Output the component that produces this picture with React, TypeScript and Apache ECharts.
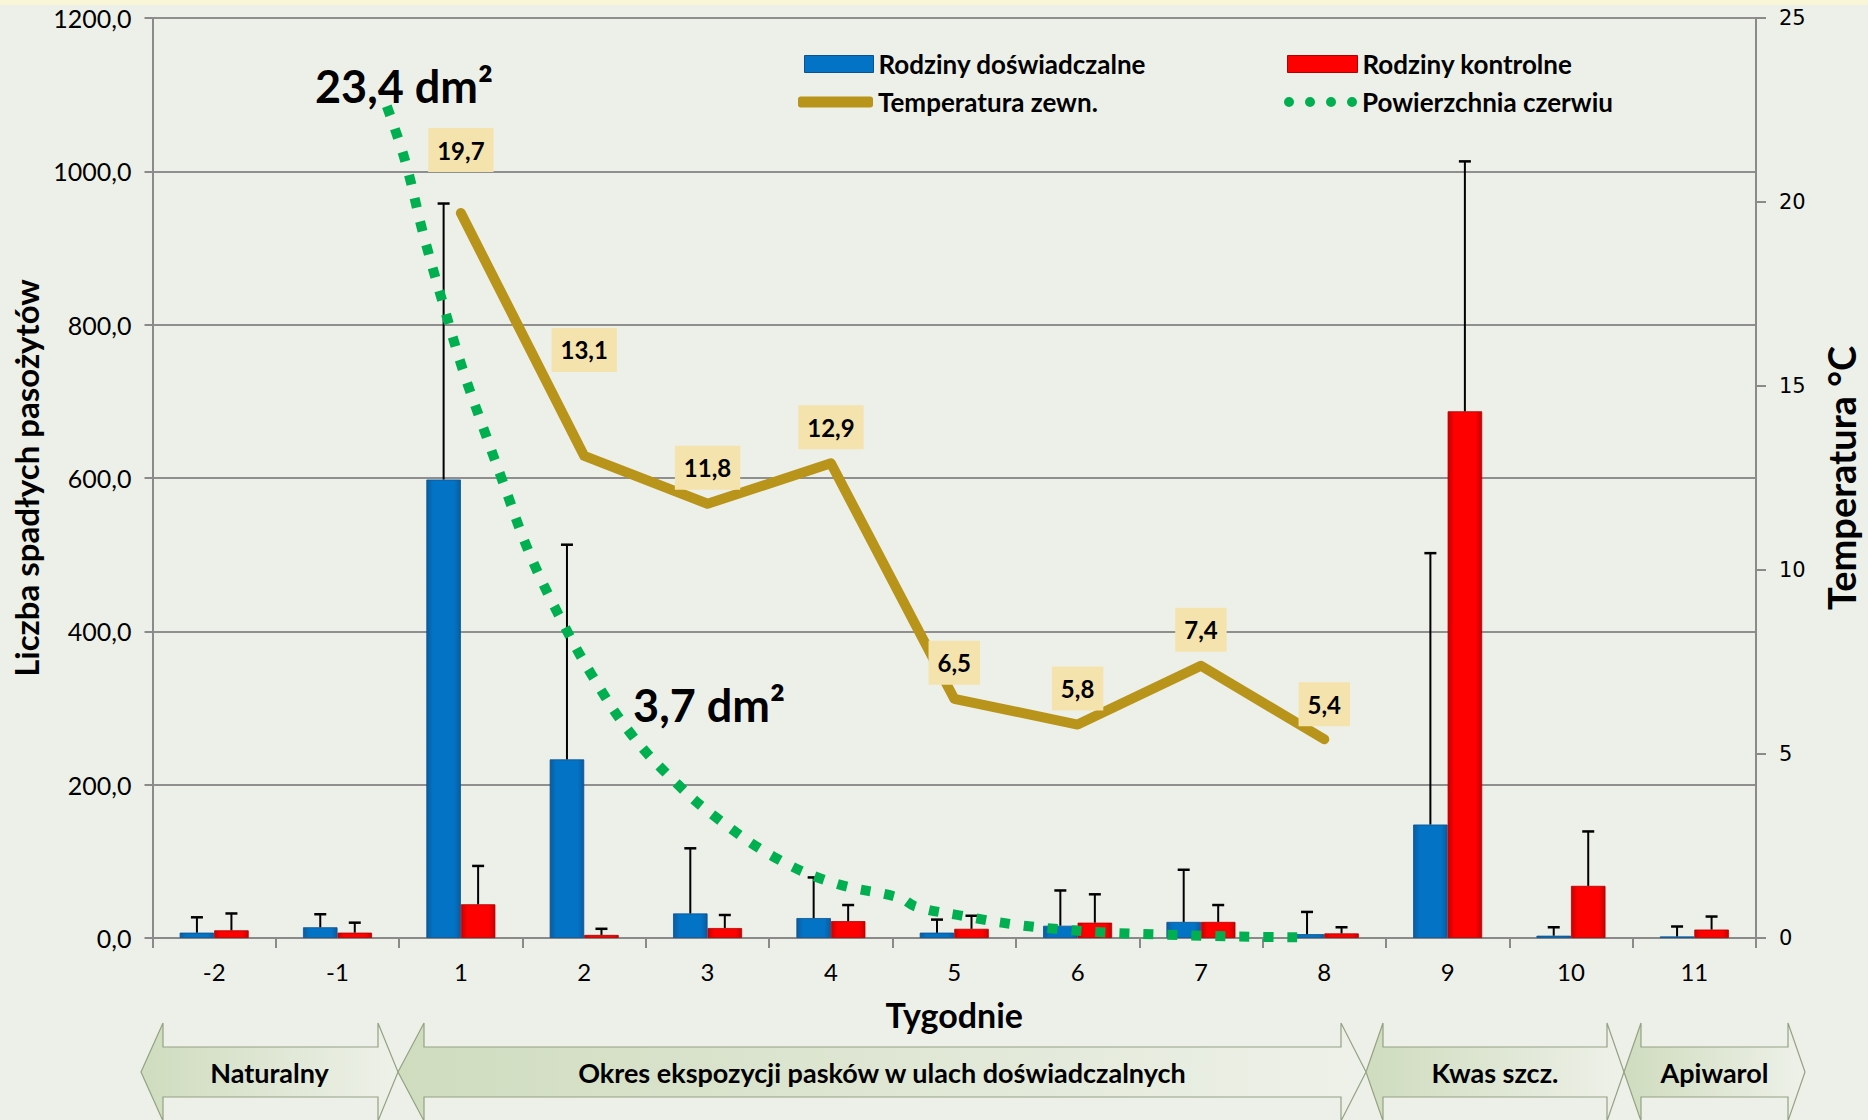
import React, { useEffect, useRef } from "react";
import * as echarts from "echarts";

// ---- data ----
const weeks = ["-2", "-1", "1", "2", "3", "4", "5", "6", "7", "8", "9", "10", "11"];
const experimental = [7, 14, 598, 233, 32, 26, 7, 16, 21, 5, 148, 3, 2];
const experimentalSD = [20, 17, 360, 280, 85, 53, 17, 46, 68, 29, 354, 11, 13];
const control = [10, 7, 44, 4, 13, 22, 12, 20, 21, 6, 687, 68, 11];
const controlSD = [22, 13, 50, 8, 17, 21, 17, 37, 22, 8, 326, 71, 17];
const temperature: (number | null)[] = [null, null, 19.7, 13.1, 11.8, 12.9, 6.5, 5.8, 7.4, 5.4, null, null, null];
// brood area curve: position along the week axis (category index units) and value (right-axis units)
const broodPos = [1.40, 1.55, 1.69, 1.85, 2.02, 2.21, 2.34, 2.55, 2.79, 3.07, 3.39, 3.75, 4.06, 4.54, 5.02, 5.56, 5.69, 6.07, 6.46, 6.85, 7.23, 7.62, 8.01, 8.41, 8.78];
const broodArea = [22.6, 21.1, 19.2, 17.3, 15.4, 13.6, 12.4, 10.5, 8.8, 7.1, 5.5, 4.2, 3.3, 2.2, 1.5, 1.09, 0.85, 0.6, 0.38, 0.24, 0.15, 0.1, 0.06, 0.035, 0.02];
const broodNotes = ["23,4 dm²", "3,7 dm²"];
const leftAxis = { min: 0, max: 1200, interval: 200 };
const rightAxis = { min: 0, max: 25, interval: 5 };
const periods = ["Naturalny", "Okres ekspozycji pasków w ulach doświadczalnych", "Kwas szcz.", "Apiwarol"];
const seriesNames = ["Rodziny doświadczalne", "Rodziny kontrolne", "Temperatura zewn.", "Powierzchnia czerwiu"];

// ---- styles ----
const FONT = "Lato";
const BG = "#EDF0E8";
const BAR_W = 34.5;
const tempLabelDist = [0, 0, 40, 83, 13, 13, 13, 13, 13, 12, 0, 0, 0];

function errorSeries(values: number[], sds: number[], side: number) {
  return {
    type: "custom",
    xAxisIndex: 0,
    yAxisIndex: 0,
    z: 3,
    silent: true,
    data: weeks.map((_, i) => [i, values[i], values[i] + sds[i]]),
    renderItem: (params: any, api: any) => {
      const base = api.coord([api.value(0), api.value(1)]);
      const top = api.coord([api.value(0), api.value(2)]);
      const x = base[0] + (side * BAR_W) / 2;
      return {
        type: "group",
        children: [
          { type: "line", shape: { x1: x, y1: base[1], x2: x, y2: top[1] }, style: { stroke: "#000", lineWidth: 2 } },
          { type: "line", shape: { x1: x - 6, y1: top[1], x2: x + 6, y2: top[1] }, style: { stroke: "#000", lineWidth: 2.5 } },
        ],
      };
    },
  };
}

function arrowPoints(xl: number, xlb: number, xrb: number, xr: number) {
  const cy = 1072, hh = 49, bh = 25;
  return [
    [xl, cy], [xlb, cy - hh], [xlb, cy - bh], [xrb, cy - bh], [xrb, cy - hh],
    [xr, cy], [xrb, cy + hh], [xrb, cy + bh], [xlb, cy + bh], [xlb, cy + hh],
  ];
}

export default function App() {
  const ref = useRef<HTMLDivElement>(null);
  useEffect(() => {
    if (!ref.current) return;
    const chart = echarts.init(ref.current, null, { renderer: "svg" });

    const blueFill = new echarts.graphic.LinearGradient(0, 0, 1, 0, [
      { offset: 0, color: "#0A5C9E" },
      { offset: 0.18, color: "#0373C6" },
      { offset: 0.82, color: "#0373C6" },
      { offset: 1, color: "#0A5C9E" },
    ]);
    const redFill = new echarts.graphic.LinearGradient(0, 0, 1, 0, [
      { offset: 0, color: "#C80000" },
      { offset: 0.18, color: "#FF0000" },
      { offset: 0.82, color: "#FF0000" },
      { offset: 1, color: "#C80000" },
    ]);

    const bannerEdges = [
      [141, 163, 378, 398],
      [398, 424, 1341, 1366],
      [1366, 1383, 1607, 1624],
      [1624, 1641, 1788, 1805],
    ];
    const bannerGraphics: any[] = [];
    bannerEdges.forEach((e, i) => {
      bannerGraphics.push({
        type: "polygon",
        shape: { points: arrowPoints(e[0], e[1], e[2], e[3]) },
        style: {
          fill: new echarts.graphic.LinearGradient(0, 0, 1, 0, [
            { offset: 0, color: "#CFDCBE" },
            { offset: 1, color: "#EEF1E9" },
          ]),
          stroke: "#94A283",
          lineWidth: 1.2,
        },
        z: 1,
      });
      bannerGraphics.push({
        type: "text",
        x: (e[0] + e[3]) / 2,
        y: 1072,
        style: {
          text: periods[i],
          font: `bold 27px ${FONT}`,
          fill: "#000",
          textAlign: "center",
          textVerticalAlign: "middle",
        },
        z: 2,
      });
    });

    const textStyle = { fontFamily: FONT, fontWeight: "bold", fontSize: 26, color: "#000", lineHeight: 28 };
    const dotsIcon =
      "path://M0,5a5,5 0 1,0 10,0a5,5 0 1,0 -10,0Z M21,5a5,5 0 1,0 10,0a5,5 0 1,0 -10,0Z M42,5a5,5 0 1,0 10,0a5,5 0 1,0 -10,0Z M63,5a5,5 0 1,0 10,0a5,5 0 1,0 -10,0Z";
    const legendBase = { padding: 0, selectedMode: false, textStyle };

    const option: any = {
      animation: false,
      backgroundColor: BG,
      textStyle: { fontFamily: FONT },
      grid: { left: 152.5, right: 108, top: 18, bottom: 182, containLabel: false },
      legend: [
        { ...legendBase, data: [{ name: seriesNames[0], icon: "rect", itemStyle: { color: "#0373C6", borderColor: "#0A5290", borderWidth: 1 } }], left: 804, top: 50, itemWidth: 69, itemHeight: 17 },
        { ...legendBase, data: [{ name: seriesNames[2], icon: "roundRect", itemStyle: { color: "#B8941A" } }], left: 798, top: 88, itemWidth: 75, itemHeight: 11 },
        { ...legendBase, data: [{ name: seriesNames[1], icon: "rect", itemStyle: { color: "#FF0000", borderColor: "#B00000", borderWidth: 1 } }], left: 1287, top: 50, itemWidth: 70, itemHeight: 17 },
        { ...legendBase, data: [{ name: seriesNames[3], icon: dotsIcon, itemStyle: { color: "#00B050" } }], left: 1284, top: 88, itemWidth: 73, itemHeight: 10 },
      ],
      xAxis: [
        {
          type: "category",
          data: weeks,
          name: "Tygodnie",
          nameLocation: "middle",
          nameGap: 59,
          nameTextStyle: { fontFamily: FONT, fontWeight: "bold", fontSize: 34, color: "#000" },
          axisLine: { onZero: false, lineStyle: { color: "#8A8A8A", width: 2 } },
          axisTick: { show: true, length: 10, lineStyle: { color: "#8A8A8A", width: 2 } },
          axisLabel: { fontFamily: FONT, fontSize: 24, color: "#000", margin: 21 },
          splitLine: { show: false },
        },
        { type: "value", min: -0.5, max: 12.5, show: false, axisLine: { onZero: false } },
      ],
      yAxis: [
        {
          type: "value",
          min: leftAxis.min,
          max: leftAxis.max,
          interval: leftAxis.interval,
          name: "Liczba spadłych pasożytów",
          nameLocation: "middle",
          nameRotate: 90,
          nameGap: 108,
          nameTextStyle: { fontFamily: FONT, fontWeight: "bold", fontSize: 33, color: "#000" },
          axisLine: { show: true, onZero: false, lineStyle: { color: "#8A8A8A", width: 2 } },
          axisTick: { show: true, length: 8, lineStyle: { color: "#8A8A8A", width: 2 } },
          axisLabel: {
            fontFamily: FONT,
            fontSize: 25,
            color: "#000",
            margin: 21,
            formatter: (v: number) => v.toFixed(1).replace(".", ","),
          },
          splitLine: { show: true, lineStyle: { color: "#8F8F8F", width: 2 } },
        },
        {
          type: "value",
          min: rightAxis.min,
          max: rightAxis.max,
          interval: rightAxis.interval,
          position: "right",
          name: "Temperatura °C",
          nameLocation: "middle",
          nameRotate: 90,
          nameGap: 66,
          nameTextStyle: { fontFamily: FONT, fontWeight: "bold", fontSize: 38, color: "#000" },
          axisLine: { show: true, onZero: false, lineStyle: { color: "#8A8A8A", width: 2 } },
          axisTick: { show: true, length: 10, lineStyle: { color: "#8A8A8A", width: 2 } },
          axisLabel: { fontFamily: "DejaVu Sans", fontSize: 21, color: "#000", margin: 23 },
          splitLine: { show: false },
        },
      ],
      series: [
        {
          type: "bar",
          name: seriesNames[0],
          data: experimental,
          barWidth: BAR_W,
          barGap: "0%",
          itemStyle: { color: blueFill, borderColor: "#0A5290", borderWidth: 0.8 },
          z: 2,
        },
        {
          type: "bar",
          name: seriesNames[1],
          data: control,
          barWidth: BAR_W,
          barGap: "0%",
          itemStyle: { color: redFill, borderColor: "#B00000", borderWidth: 0.8 },
          z: 2,
        },
        errorSeries(experimental, experimentalSD, -1),
        errorSeries(control, controlSD, 1),
        {
          type: "line",
          name: seriesNames[3],
          xAxisIndex: 1,
          yAxisIndex: 1,
          smooth: 0.4,
          symbol: "none",
          data: broodPos.map((x, i) => [x, broodArea[i]]),
          lineStyle: { color: "#00B050", width: 10, type: [10, 14], cap: "butt" },
          itemStyle: { color: "#00B050" },
          z: 4,
        },
        {
          type: "line",
          name: seriesNames[2],
          yAxisIndex: 1,
          data: temperature.map((v, i) => (v == null ? null : { value: v, label: { distance: tempLabelDist[i] } })),
          symbol: "circle",
          symbolSize: 2,
          showSymbol: true,
          itemStyle: { color: "#B8941A" },
          lineStyle: { color: "#B8941A", width: 10, cap: "round", join: "round" },
          label: {
            show: true,
            position: "top",
            formatter: (p: any) => Number(p.value).toFixed(1).replace(".", ","),
            backgroundColor: "#F5E3AD",
            padding: [9, 9, 9, 9],
            fontFamily: FONT,
            fontWeight: "bold",
            fontSize: 24,
            lineHeight: 26,
            color: "#000",
          },
          z: 5,
        },
      ],
      graphic: [
        { type: "rect", shape: { x: 0, y: 0, width: 1868, height: 5 }, style: { fill: "#F8F6D6" }, z: 0 },
        {
          type: "text",
          x: 404,
          y: 86,
          style: { text: broodNotes[0], font: `bold 45px ${FONT}`, fill: "#000", textAlign: "center", textVerticalAlign: "middle" },
          z: 10,
        },
        {
          type: "text",
          x: 709,
          y: 705,
          style: { text: broodNotes[1], font: `bold 45px ${FONT}`, fill: "#000", textAlign: "center", textVerticalAlign: "middle" },
          z: 10,
        },
        ...bannerGraphics,
      ],
    };

    chart.setOption(option);
    return () => chart.dispose();
  }, []);

  return (
    <div
      ref={ref}
      style={{ position: "fixed", left: 0, top: 0, width: 1868, height: 1120, background: BG }}
    />
  );
}
